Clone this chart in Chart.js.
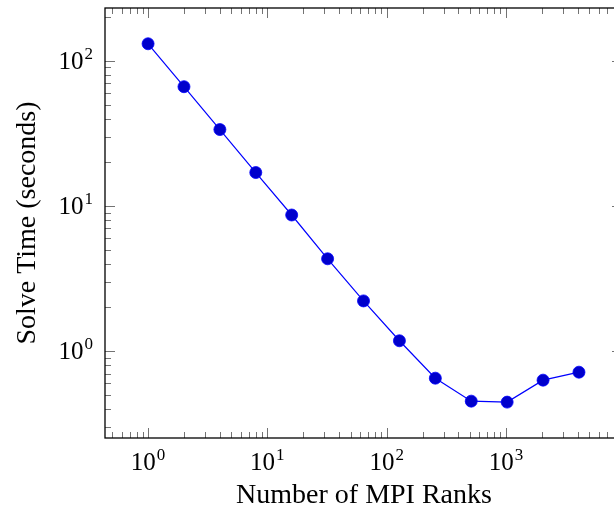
<!DOCTYPE html>
<html>
<head>
<meta charset="utf-8">
<script src="https://cdn.jsdelivr.net/npm/chart.js@4/dist/chart.umd.min.js"></script>
<style>
  html, body { margin: 0; padding: 0; background: #fff; overflow: hidden; }
  #wrap { width: 640px; height: 510px; }
</style>
</head>
<body>
<div id="wrap"><canvas id="scaling" width="640" height="510"></canvas></div>
<script>
// strong scaling run: solve time vs. number of MPI ranks
const ranks = [1, 2, 4, 8, 16, 32, 64, 128, 256, 512, 1024, 2048, 4096];
const solveTimes = [131, 66.3, 33.6, 17.0, 8.67, 4.33, 2.22, 1.18, 0.652, 0.453, 0.446, 0.632, 0.717];

// decade exponents used for the labelled ticks
const xDecades = [0, 1, 2, 3];
const yDecades = [0, 1, 2];

const xLabel = 'Number of MPI Ranks';
const yLabel = 'Solve Time (seconds)';

const SERIF = '"Liberation Serif", "DejaVu Serif", serif';

// axis limits padded by 10% of the log range on each side
const xMin = 0.4355, xMax = 9400;
const yMin = 0.2525, yMax = 231;

function minorValues(lo, hi) {
  const out = [];
  for (let e = Math.floor(Math.log10(lo)); e <= Math.ceil(Math.log10(hi)); e++) {
    for (let m = 2; m <= 9; m++) {
      const v = m * Math.pow(10, e);
      if (v > lo && v < hi) out.push(v);
    }
  }
  return out;
}

function drawPower(ctx, exp, x, y, align) {
  const base = '10', sup = String(exp);
  ctx.font = '25px ' + SERIF;
  const wb = ctx.measureText(base).width;
  ctx.font = '17px ' + SERIF;
  const ws = ctx.measureText(sup).width;
  const total = wb + ws + 1;
  let left = align === 'right' ? x - total : x - total / 2;
  ctx.textAlign = 'left';
  ctx.textBaseline = 'alphabetic';
  ctx.font = '25px ' + SERIF;
  ctx.fillText(base, left, y);
  ctx.font = '17px ' + SERIF;
  ctx.fillText(sup, left + wb + 1, y - 10);
}

const axisPlugin = {
  id: 'pgfAxes',
  afterDatasetsDraw(chart) {
    const { ctx, chartArea: a, scales } = chart;
    const xs = scales.x, ys = scales.y;
    ctx.save();

    // inward ticks on all four sides
    ctx.strokeStyle = 'rgba(0,0,0,0.55)';
    ctx.lineWidth = 1;
    ctx.beginPath();
    const tickX = (v, len) => {
      const px = Math.round(xs.getPixelForValue(v)) + 0.5;
      ctx.moveTo(px, a.bottom); ctx.lineTo(px, a.bottom - len);
      ctx.moveTo(px, a.top); ctx.lineTo(px, a.top + len);
    };
    const tickY = (v, len) => {
      const py = Math.round(ys.getPixelForValue(v)) + 0.5;
      ctx.moveTo(a.left, py); ctx.lineTo(a.left + len, py);
      ctx.moveTo(a.right, py); ctx.lineTo(a.right - len, py);
    };
    minorValues(xMin, xMax).forEach(v => tickX(v, 6));
    minorValues(yMin, yMax).forEach(v => tickY(v, 6));
    xDecades.forEach(e => tickX(Math.pow(10, e), 10));
    yDecades.forEach(e => tickY(Math.pow(10, e), 10));
    ctx.stroke();

    // frame
    ctx.strokeStyle = '#000';
    ctx.lineWidth = 1.3;
    ctx.strokeRect(a.left, a.top, a.right - a.left, a.bottom - a.top);

    // tick labels
    ctx.fillStyle = '#000';
    xDecades.forEach(e => drawPower(ctx, e, xs.getPixelForValue(Math.pow(10, e)), a.bottom + 32, 'center'));
    yDecades.forEach(e => drawPower(ctx, e, a.left - 12, ys.getPixelForValue(Math.pow(10, e)) + 8, 'right'));

    // axis titles
    ctx.font = '28px ' + SERIF;
    ctx.textAlign = 'center';
    ctx.textBaseline = 'alphabetic';
    ctx.fillText(xLabel, 364, 503);
    ctx.translate(35, 223);
    ctx.rotate(-Math.PI / 2);
    ctx.fillText(yLabel, 0, 0);
    ctx.restore();
  }
};

new Chart(document.getElementById('scaling'), {
  type: 'line',
  data: {
    datasets: [{
      data: ranks.map((r, i) => ({ x: r, y: solveTimes[i] })),
      borderColor: '#0000ff',
      borderWidth: 1.2,
      backgroundColor: '#0000cc',
      pointBackgroundColor: '#0000cc',
      pointBorderColor: '#0000ff',
      pointBorderWidth: 0.8,
      pointRadius: 6,
      tension: 0,
      fill: false
    }]
  },
  options: {
    responsive: false,
    animation: false,
    layout: { padding: { left: 105, top: 8, right: 18, bottom: 72 } },
    plugins: { legend: { display: false }, tooltip: { enabled: false } },
    scales: {
      x: { type: 'logarithmic', min: xMin, max: xMax, display: false },
      y: { type: 'logarithmic', min: yMin, max: yMax, display: false }
    }
  },
  plugins: [axisPlugin]
});
</script>
</body>
</html>
